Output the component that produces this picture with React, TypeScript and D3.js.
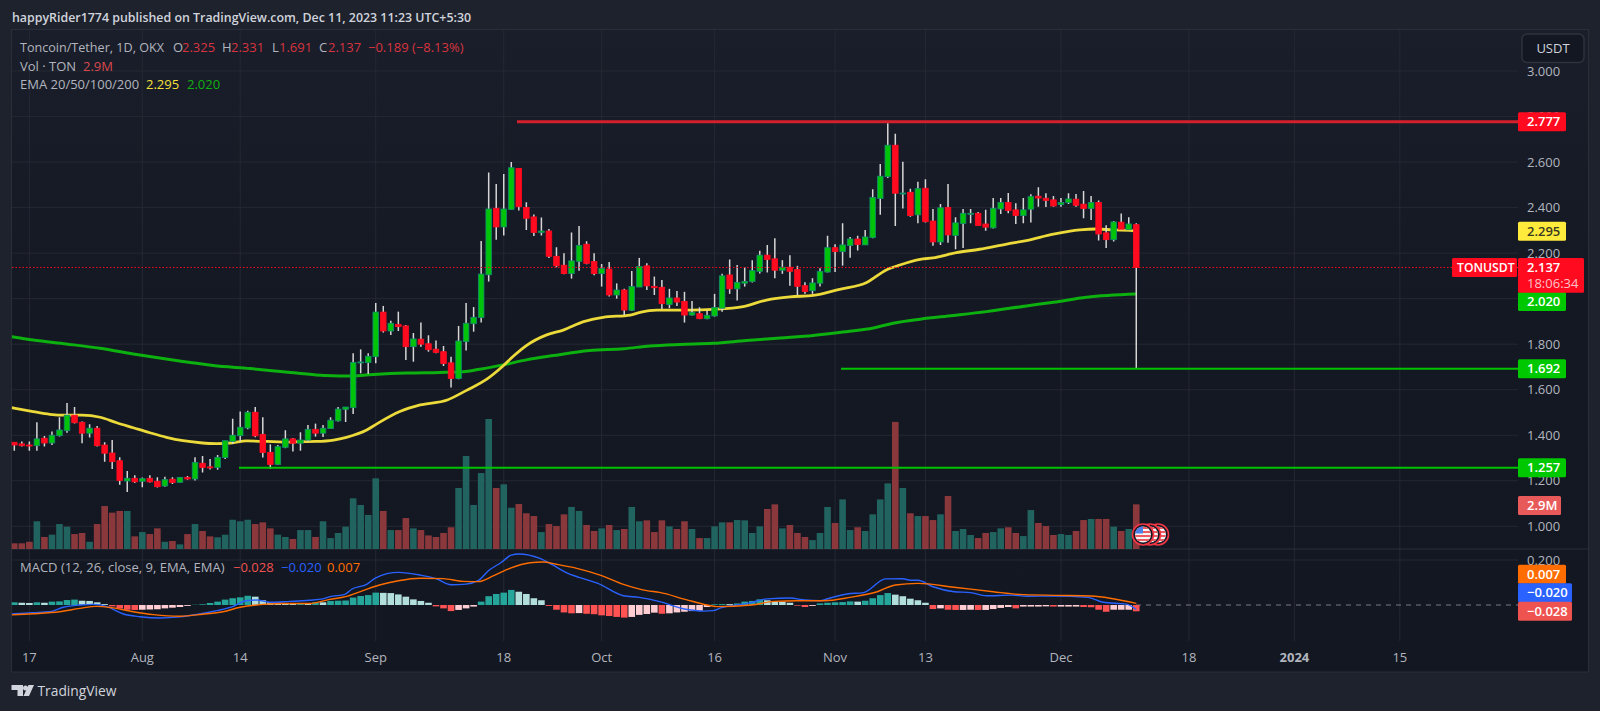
import React from "react";
import * as d3 from "d3";

// Daily candles, Jul 15 to Dec 11 2023
const opens = [
  1.369,1.362,1.357,1.354,1.387,1.366,1.398,1.420,1.488,1.457,
  1.409,1.431,1.357,1.322,1.288,1.199,1.211,1.198,1.211,1.198,
  1.177,1.207,1.193,1.215,1.208,1.277,1.261,1.258,1.302,1.373,
  1.398,1.432,1.501,1.404,1.325,1.272,1.347,1.384,1.365,1.379,
  1.426,1.409,1.429,1.463,1.514,1.521,1.719,1.719,1.745,1.941,
  1.858,1.887,1.880,1.789,1.822,1.802,1.778,1.767,1.718,1.649,
  1.811,1.890,1.917,2.105,2.397,2.315,2.392,2.572,2.401,2.359,
  2.291,2.297,2.186,2.147,2.110,2.164,2.239,2.163,2.110,2.130,
  2.016,2.038,1.949,2.051,2.144,2.054,2.050,1.974,2.003,1.988,
  1.928,1.934,1.912,1.924,1.958,2.104,2.043,2.068,2.075,2.120,
  2.191,2.175,2.125,2.138,2.128,2.057,2.035,2.068,2.117,2.224,
  2.207,2.233,2.262,2.236,2.268,2.440,2.536,2.674,2.462,2.467,
  2.368,2.485,2.341,2.249,2.401,2.277,2.330,2.372,2.375,2.328,
  2.311,2.394,2.422,2.390,2.365,2.393,2.450,2.441,2.434,2.413,
  2.422,2.437,2.415,2.396,2.422,2.289,2.259,2.336,2.303,2.325,
];
const highs = [
  1.369,1.373,1.373,1.457,1.397,1.416,1.479,1.542,1.524,1.460,
  1.448,1.441,1.369,1.379,1.303,1.243,1.224,1.214,1.224,1.215,
  1.218,1.215,1.215,1.221,1.303,1.309,1.296,1.313,1.376,1.472,
  1.504,1.508,1.524,1.479,1.360,1.357,1.422,1.388,1.413,1.445,
  1.451,1.445,1.479,1.524,1.524,1.760,1.777,1.760,1.981,1.968,
  1.903,1.943,1.884,1.849,1.895,1.839,1.816,1.792,1.745,1.880,
  1.981,1.963,2.253,2.554,2.504,2.548,2.600,2.572,2.423,2.370,
  2.357,2.306,2.226,2.199,2.291,2.319,2.252,2.199,2.152,2.161,
  2.067,2.043,2.122,2.179,2.155,2.097,2.082,2.043,2.034,2.030,
  1.990,1.962,1.948,2.021,2.109,2.172,2.148,2.138,2.169,2.210,
  2.236,2.265,2.169,2.191,2.144,2.072,2.090,2.134,2.276,2.239,
  2.331,2.271,2.276,2.302,2.481,2.592,2.770,2.724,2.601,2.483,
  2.513,2.524,2.394,2.416,2.504,2.358,2.394,2.394,2.381,2.390,
  2.442,2.442,2.464,2.419,2.442,2.459,2.489,2.463,2.451,2.442,
  2.463,2.460,2.473,2.451,2.431,2.322,2.341,2.374,2.358,2.331,
];
const lows = [
  1.332,1.350,1.332,1.332,1.350,1.357,1.394,1.411,1.452,1.365,
  1.390,1.350,1.284,1.252,1.182,1.151,1.190,1.171,1.192,1.170,
  1.174,1.186,1.192,1.204,1.201,1.236,1.250,1.248,1.296,1.362,
  1.372,1.426,1.391,1.302,1.252,1.269,1.343,1.329,1.332,1.373,
  1.394,1.392,1.428,1.460,1.458,1.493,1.672,1.669,1.716,1.851,
  1.840,1.858,1.731,1.723,1.789,1.767,1.760,1.704,1.610,1.646,
  1.772,1.855,1.895,2.075,2.259,2.277,2.392,2.387,2.302,2.275,
  2.277,2.179,2.138,2.107,2.088,2.123,2.151,2.103,2.053,2.009,
  2.000,1.928,1.946,2.051,2.038,2.016,1.955,1.958,1.968,1.895,
  1.926,1.910,1.910,1.921,1.943,2.021,1.992,2.053,2.071,2.110,
  2.115,2.090,2.109,2.057,2.015,2.021,2.021,2.053,2.115,2.117,
  2.145,2.180,2.211,2.236,2.265,2.368,2.530,2.319,2.396,2.360,
  2.331,2.334,2.232,2.236,2.246,2.217,2.223,2.331,2.321,2.298,
  2.308,2.372,2.375,2.328,2.331,2.334,2.404,2.403,2.404,2.404,
  2.416,2.404,2.353,2.346,2.255,2.223,2.251,2.302,2.302,1.691,
];
const closes = [
  1.357,1.354,1.354,1.384,1.366,1.400,1.423,1.488,1.455,1.409,
  1.431,1.354,1.321,1.284,1.201,1.211,1.195,1.209,1.195,1.174,
  1.205,1.192,1.215,1.208,1.280,1.258,1.258,1.303,1.376,1.400,
  1.435,1.501,1.397,1.324,1.272,1.350,1.384,1.365,1.379,1.426,
  1.409,1.431,1.466,1.515,1.524,1.720,1.722,1.747,1.941,1.858,
  1.892,1.877,1.789,1.823,1.800,1.776,1.764,1.715,1.649,1.814,
  1.892,1.918,2.108,2.394,2.315,2.394,2.575,2.404,2.353,2.291,
  2.297,2.186,2.144,2.110,2.166,2.234,2.155,2.110,2.132,2.016,
  2.038,1.950,2.053,2.141,2.056,2.048,1.978,2.003,1.985,1.928,
  1.939,1.912,1.927,1.961,2.100,2.043,2.071,2.076,2.123,2.191,
  2.172,2.125,2.138,2.120,2.054,2.031,2.069,2.120,2.224,2.207,
  2.236,2.262,2.238,2.271,2.445,2.538,2.674,2.463,2.464,2.365,
  2.483,2.338,2.249,2.399,2.280,2.333,2.375,2.375,2.321,2.314,
  2.397,2.422,2.387,2.365,2.390,2.448,2.442,2.431,2.407,2.422,
  2.438,2.410,2.396,2.422,2.284,2.259,2.337,2.305,2.328,2.137,
];
// Volume in millions of TON
const volumes = [
  0.37,0.37,0.47,1.80,0.78,0.93,1.62,1.45,0.97,1.04,
  0.47,1.62,2.79,2.36,2.47,2.47,0.82,1.10,0.97,1.34,
  0.47,0.52,0.30,0.97,1.62,1.17,0.82,0.76,0.93,1.90,
  1.80,1.90,1.62,1.73,1.34,0.93,0.78,0.65,1.23,1.23,
  0.78,1.80,0.71,1.04,1.45,3.29,2.86,2.21,4.59,2.47,
  1.23,1.23,2.01,1.34,1.23,0.88,0.78,1.04,1.41,3.96,
  6.04,2.86,4.93,8.44,3.96,4.20,2.68,2.92,2.32,2.14,
  1.10,1.62,1.49,2.25,2.73,2.47,1.56,1.17,1.34,1.56,
  1.23,1.30,2.73,1.80,1.86,1.10,1.86,1.47,1.30,1.80,
  1.30,0.71,0.71,1.47,1.73,1.73,1.88,1.86,1.04,1.47,
  2.60,2.90,1.34,1.56,1.04,0.78,0.58,1.04,2.73,1.69,
  3.22,1.23,1.41,1.17,2.25,3.22,4.26,8.25,3.96,2.32,
  2.14,2.14,1.88,2.25,3.44,1.17,1.30,0.91,0.71,1.04,
  1.10,1.34,1.41,1.04,0.84,2.53,1.69,1.49,0.91,0.97,
  0.91,1.17,1.88,1.95,1.95,1.95,1.45,1.17,1.30,2.90,
];
const macdHist = [
  0.012,0.010,0.009,0.012,0.010,0.015,0.016,0.022,0.024,0.019,
  0.018,0.012,0.004,-0.006,-0.016,-0.021,-0.022,-0.021,-0.020,-0.019,
  -0.015,-0.012,-0.009,-0.004,0.001,0.003,0.009,0.015,0.024,0.030,
  0.034,0.041,0.037,0.021,0.013,0.010,0.007,0.006,0.009,0.007,
  0.012,0.012,0.018,0.019,0.020,0.033,0.040,0.044,0.055,0.054,
  0.053,0.047,0.037,0.025,0.018,0.010,-0.006,-0.015,-0.027,-0.022,
  -0.015,-0.007,0.015,0.039,0.049,0.055,0.067,0.059,0.049,0.030,
  0.021,-0.004,-0.021,-0.033,-0.037,-0.036,-0.039,-0.041,-0.046,-0.049,
  -0.053,-0.056,-0.053,-0.044,-0.040,-0.034,-0.039,-0.037,-0.033,-0.030,
  -0.027,-0.025,-0.009,0.003,0.004,0.004,0.007,0.015,0.018,0.025,
  0.021,0.016,0.015,0.010,-0.003,-0.009,-0.004,0.007,0.010,0.012,
  0.013,0.016,0.015,0.019,0.030,0.044,0.053,0.046,0.039,0.028,
  0.021,0.010,-0.018,-0.015,-0.021,-0.022,-0.022,-0.021,-0.022,-0.022,
  -0.018,-0.013,-0.009,-0.015,-0.007,-0.007,-0.007,-0.006,-0.007,-0.007,
  -0.007,-0.007,-0.009,-0.010,-0.021,-0.030,-0.021,-0.021,-0.021,-0.028,
];

// Lines read at sampled bar positions
const ema50Idx = [-0.35,2.5,4.7,6.9,9,11.4,13.6,15.8,18,20.2,22.4,24.7,26.9,29,30.8,33.5,35.7,38,40.1,42.4,44.1,46.8,48.1,51.2,53.9,57.5,60,62.7,64.9,66.3,68,70.7,72.9,75.6,78.2,81.8,83.1,85.3,89.7,92.8,96.8,99.9,103,106.1,109.6,113.2,115.8,117.6,120.3,122,125.1,128.2,131.8,134.4,138,141.5,143.7,145.9,148.1,149];
const ema50Val = [1.521,1.504,1.492,1.488,1.488,1.479,1.455,1.433,1.411,1.391,1.376,1.367,1.363,1.367,1.375,1.373,1.370,1.372,1.373,1.379,1.391,1.423,1.449,1.504,1.533,1.555,1.596,1.645,1.704,1.748,1.794,1.841,1.862,1.899,1.918,1.928,1.940,1.950,1.950,1.953,1.965,1.994,2.008,2.014,2.041,2.071,2.126,2.148,2.173,2.179,2.202,2.217,2.240,2.255,2.283,2.302,2.306,2.302,2.300,2.295];
const ema200Idx = [-0.35,2.5,6.9,11.4,15.8,19.3,22.9,26.4,31.3,35.7,40.1,44.1,47.7,52.1,56.5,59.6,61.8,64.9,68,71.6,76.4,80.9,84.4,88.4,92.8,97.2,101.7,106.1,110.5,114.1,116.7,120.3,124.7,129.1,134.4,138,142.4,149];
const ema200Val = [1.833,1.818,1.801,1.782,1.757,1.739,1.722,1.706,1.693,1.679,1.665,1.660,1.667,1.673,1.676,1.679,1.690,1.709,1.731,1.750,1.772,1.780,1.792,1.799,1.804,1.816,1.827,1.838,1.855,1.871,1.892,1.910,1.926,1.943,1.968,1.984,2.006,2.020];
const macdIdx = [-0.35,2.5,4.7,6.5,8.7,10.5,12.3,14.5,16.7,19.3,22,24.6,26.9,29,30.8,32.2,33.9,36.6,39.2,41,41.9,43.9,44.8,46.8,48,51,53.9,56,58,60,61.6,63,64.7,66,67,69.8,71.5,73.3,75,77.5,80.9,83,85.7,89.2,91.5,92.8,93.8,97.4,100,103,105,107,108,110.6,112.8,115.7,118,119,120,122,124.8,127,129.1,132.4,134.5,138,142.6,144.6,147.7,149];
const macdVal = [-0.040,-0.034,-0.030,-0.010,0,0.003,-0.007,-0.040,-0.052,-0.058,-0.053,-0.040,-0.025,-0.007,0.019,0.022,0.012,0.016,0.021,0.027,0.037,0.047,0.070,0.092,0.121,0.145,0.133,0.117,0.090,0.093,0.108,0.153,0.190,0.222,0.227,0.207,0.178,0.144,0.123,0.096,0.041,0.034,0.015,-0.019,-0.027,-0.025,-0.013,0.007,0.027,0.031,0.022,0.019,0.028,0.049,0.055,0.116,0.117,0.110,0.110,0.081,0.059,0.055,0.041,0.044,0.039,0.040,0.034,0.012,0.004,-0.020];
const signalIdx = [-0.35,2.5,6,8.7,10.9,13.1,15.8,18.5,22,25,27.7,30,33,35.7,39.2,41.9,44,46.3,48.5,51,53.9,57,59.6,61.6,63.6,65.8,68.5,70.2,72,74.7,77.8,80.9,84,85.7,89.2,92,93.3,97.9,100.9,104,107.5,111,114.6,117,120,124.8,130,133.4,138.5,143,149];
const signalVal = [-0.044,-0.039,-0.030,-0.015,-0.006,-0.013,-0.030,-0.043,-0.050,-0.041,-0.030,-0.010,0.003,0.007,0.007,0.025,0.037,0.064,0.089,0.108,0.119,0.117,0.105,0.104,0.129,0.163,0.188,0.191,0.181,0.163,0.133,0.092,0.064,0.056,0.024,0,-0.007,0,0.016,0.019,0.019,0.034,0.059,0.089,0.096,0.079,0.059,0.047,0.043,0.040,0.007];

const priceTicks = [3, 2.8, 2.6, 2.4, 2.2, 1.8, 1.6, 1.4, 1.2, 1];
const gridPrices = [3, 2.8, 2.6, 2.4, 2.2, 2, 1.8, 1.6, 1.4, 1.2, 1];
const timeLabels = ["17", "Aug", "14", "Sep", "18", "Oct", "16", "Nov", "13", "Dec", "18", "2024", "15"];
const timeBars = [2, 17, 30, 48, 65, 78, 93, 109, 121, 139, 156, 170, 184];

const resistance = 2.777;
const support1 = 1.692;
const support2 = 1.257;
const lastClose = 2.137;

const FONT = "'Open Sans', 'DejaVu Sans', sans-serif";
const UP = "#00c40a";
const DOWN = "#ff0a1f";
const GRID = "#242833";
const MUTED = "#b2b5be";

const x = d3.scaleLinear().domain([0, 149]).range([14.3, 14.3 + 7.53 * 149]);
const y = d3.scaleLinear().domain([1, 3]).range([526.3, 71]);
const yVol = d3.scaleLinear().domain([0, 8.44]).range([549, 419]);
const yMacd = d3.scaleLinear().domain([-0.2, 0.2]).range([650, 560]);

const priceLine = (idx: number[], vals: number[], sy: d3.ScaleLinear<number, number>) =>
  d3
    .line<number>()
    .x((d) => x(d))
    .y((_, i) => sy(vals[i]))
    .curve(d3.curveMonotoneX)(idx) as string;

const fmt = d3.format(".3f");

const Tag = ({ yc, w, fill, text, color = "#fff", x0 = 1518 }: any) => (
  <g>
    <rect x={x0} y={yc - 9.5} width={w} height={19} rx={1.5} fill={fill} />
    <text x={x0 + 9} y={yc + 4.6} fontSize={13} fontWeight={600} fill={color}>
      {text}
    </text>
  </g>
);

const Flag = ({ cx, cy }: { cx: number; cy: number }) => (
  <g>
    <circle cx={cx} cy={cy} r={10.5} fill="#131722" stroke="#f23645" strokeWidth={1.6} />
    <clipPath id={`flag${cx}`}>
      <circle cx={cx} cy={cy} r={8} />
    </clipPath>
    <g clipPath={`url(#flag${cx})`}>
      <rect x={cx - 9} y={cy - 9} width={18} height={18} fill="#f4f4f4" />
      {[-7.5, -3.5, 0.5, 4.5].map((d) => (
        <rect key={d} x={cx - 9} y={cy + d} width={18} height={2} fill="#ee5a62" />
      ))}
      <rect x={cx - 9} y={cy - 9} width={9} height={8} fill="#4d7fe8" />
    </g>
  </g>
);

const App = () => {
  const histColor = (v: number, i: number) => {
    const prev = i > 0 ? macdHist[i - 1] : v - 1;
    if (v >= 0) return v > prev ? "#26a69a" : "#b2dfdb";
    return v < prev ? "#ff5252" : "#ffcdd2";
  };

  return (
    <svg
      width={1600}
      height={711}
      style={{ position: "absolute", left: 0, top: 0, display: "block" }}
      fontFamily={FONT}
    >
      <defs>
        <linearGradient id="panel" x1="0" y1="0" x2="0" y2="1">
          <stop offset="0" stopColor="#1a1e2a" />
          <stop offset="0.45" stopColor="#141823" />
          <stop offset="1" stopColor="#131722" />
        </linearGradient>
        <clipPath id="main">
          <rect x={11.7} y={30} width={1506.3} height={519} />
        </clipPath>
        <clipPath id="macd">
          <rect x={11.7} y={550} width={1506.3} height={92} />
        </clipPath>
      </defs>

      <rect width={1600} height={711} fill="#1e222d" />
      <text x={12} y={21.5} fontSize={12.4} fontWeight={600} fill="#d1d4dc">
        happyRider1774 published on TradingView.com, Dec 11, 2023 11:23 UTC+5:30
      </text>

      <rect x={11.5} y={29.5} width={1577} height={642.5} fill="url(#panel)" stroke="#2a2e39" />

      {/* grid */}
      {gridPrices.map((p) => (
        <line key={p} x1={12} x2={1518} y1={y(p)} y2={y(p)} stroke={GRID} />
      ))}
      <line x1={12} x2={1518} y1={yMacd(0.2)} y2={yMacd(0.2)} stroke={GRID} />
      {timeBars.map((b) => (
        <g key={b}>
          <line x1={x(b)} x2={x(b)} y1={30} y2={549} stroke={GRID} />
          <line x1={x(b)} x2={x(b)} y1={549} y2={641} stroke={GRID} />
        </g>
      ))}
      <line x1={12} x2={1588} y1={549} y2={549} stroke="#2a2e39" />

      {/* volume */}
      <g clipPath="url(#main)">
        {volumes.map((v, i) => (
          <rect
            key={i}
            x={x(i) - 3.3}
            y={yVol(v)}
            width={6.6}
            height={549 - yVol(v)}
            fill={closes[i] >= opens[i] ? "#21635f" : "#8a383c"}
          />
        ))}

        <path d={priceLine(ema200Idx, ema200Val, y)} fill="none" stroke="#0cb00f" strokeWidth={3} />
        <path d={priceLine(ema50Idx, ema50Val, y)} fill="none" stroke="#ecd93a" strokeWidth={2.8} />

        {/* candles */}
        {opens.map((o, i) => {
          const up = closes[i] >= o;
          const top = y(Math.max(o, closes[i]));
          const bottom = y(Math.min(o, closes[i]));
          return (
            <g key={i}>
              <line x1={x(i)} x2={x(i)} y1={y(highs[i])} y2={y(lows[i])} stroke="#d6d6d6" strokeWidth={1.5} />
              <rect
                x={x(i) - 2.8}
                y={top}
                width={5.6}
                height={Math.max(bottom - top, 1)}
                fill={up ? UP : DOWN}
                stroke={up ? "#128a70" : DOWN}
                strokeWidth={0.8}
              />
            </g>
          );
        })}

        {/* horizontal levels */}
        <line x1={517} x2={1518} y1={y(resistance)} y2={y(resistance)} stroke="#d4202c" strokeWidth={3} />
        <line x1={841} x2={1518} y1={y(support1)} y2={y(support1)} stroke="#00c200" strokeWidth={2} />
        <line x1={239} x2={1518} y1={y(support2)} y2={y(support2)} stroke="#00c200" strokeWidth={2} />
        <line
          x1={12}
          x2={1518}
          y1={y(lastClose)}
          y2={y(lastClose)}
          stroke={DOWN}
          strokeWidth={1}
          strokeDasharray="1.5 2"
        />
      </g>

      <Flag cx={1158} cy={534.5} />
      <Flag cx={1150} cy={534.5} />
      <Flag cx={1143} cy={534.5} />

      {/* macd */}
      <g clipPath="url(#macd)">
        <line x1={1136} x2={1518} y1={yMacd(0)} y2={yMacd(0)} stroke="#787b86" strokeDasharray="5 5" />
        {macdHist.map((v, i) => (
          <rect
            key={i}
            x={x(i) - 3.3}
            y={Math.min(yMacd(v), yMacd(0))}
            width={6.6}
            height={Math.abs(yMacd(v) - yMacd(0))}
            fill={histColor(v, i)}
          />
        ))}
        <path d={priceLine(macdIdx, macdVal, yMacd)} fill="none" stroke="#2962ff" strokeWidth={1.4} />
        <path d={priceLine(signalIdx, signalVal, yMacd)} fill="none" stroke="#ff6d00" strokeWidth={1.4} />
      </g>

      {/* legends */}
      <g fontSize={13}>
        <text x={20} y={52} fontSize={12.6} fill={MUTED}>Toncoin/Tether, 1D, OKX</text>
        <text x={173} y={52} fill={MUTED}>O</text>
        <text x={182} y={52} fill="#d8343f">2.325</text>
        <text x={222} y={52} fill={MUTED}>H</text>
        <text x={231} y={52} fill="#d8343f">2.331</text>
        <text x={272} y={52} fill={MUTED}>L</text>
        <text x={279} y={52} fill="#d8343f">1.691</text>
        <text x={319} y={52} fill={MUTED}>C</text>
        <text x={328} y={52} fill="#d8343f">2.137</text>
        <text x={368} y={52} fill="#d8343f">−0.189 (−8.13%)</text>
        <text x={20} y={71} fill={MUTED}>Vol · TON</text>
        <text x={83} y={71} fill="#d8494d">2.9M</text>
        <text x={20} y={89} fill={MUTED}>EMA 20/50/100/200</text>
        <text x={146} y={89} fill="#f5e03a">2.295</text>
        <text x={187} y={89} fill="#10b010">2.020</text>
        <text x={20} y={572} fill={MUTED}>MACD (12, 26, close, 9, EMA, EMA)</text>
        <text x={233} y={572} fill="#ef5350">−0.028</text>
        <text x={281} y={572} fill="#2962ff">−0.020</text>
        <text x={327} y={572} fill="#ff6d00">0.007</text>
      </g>

      {/* price axis */}
      <rect x={1522} y={34} width={62} height={28.5} rx={5} fill="#131722" stroke="#2f333e" strokeWidth={1.4} />
      <text x={1553} y={52.5} textAnchor="middle" fontSize={13} fill="#d1d4dc">USDT</text>
      <g fontSize={13} fill={MUTED}>
        {priceTicks.map((p) => (
          <text key={p} x={1527} y={y(p) + 4.6}>{fmt(p)}</text>
        ))}
        <text x={1527} y={yMacd(0.2) + 4.6}>0.200</text>
      </g>

      <Tag yc={y(resistance)} w={48} fill={DOWN} text="2.777" />
      <Tag yc={231.2} w={48} fill="#ffeb3b" text="2.295" color="#3a3a22" />
      <Tag yc={301.6} w={48} fill="#00c800" text="2.020" />
      <Tag yc={y(support1)} w={48} fill="#00c800" text="1.692" />
      <Tag yc={y(support2)} w={48} fill="#00c800" text="1.257" />
      <Tag yc={505.5} w={43} fill="#e85a5a" text="2.9M" />
      <Tag yc={574.2} w={48} fill="#ff6d00" text="0.007" />
      <Tag yc={592.7} w={54} fill="#2962ff" text="−0.020" />
      <Tag yc={611.2} w={54} fill="#ef5350" text="−0.028" />

      <rect x={1452} y={258} width={65} height={19} rx={1.5} fill={DOWN} />
      <text x={1457} y={272} fontSize={12.2} fontWeight={600} fill="#fff">TONUSDT</text>
      <rect x={1518} y={258} width={66} height={34.7} rx={1.5} fill={DOWN} />
      <text x={1527} y={272} fontSize={13} fontWeight={600} fill="#fff">2.137</text>
      <text x={1527} y={288} fontSize={13} fill="#ffc2c6">18:06:34</text>

      {/* time axis */}
      <g fontSize={13} fill={MUTED} textAnchor="middle">
        {timeLabels.map((t, i) => (
          <text key={i} x={x(timeBars[i])} y={661.5} fontWeight={t === "2024" ? 700 : 400}>
            {t}
          </text>
        ))}
      </g>

      {/* watermark */}
      <g fill="#d1d4dc">
        <path d="M11.5 685h11.5v11h-5.5v-6h-6z" />
        <circle cx={25.5} cy={688} r={2.5} />
        <path d="M28.5 685h5.5l-5 11h-5.5z" />
        <text x={37.5} y={696} fontSize={13.8} fontWeight={500}>TradingView</text>
      </g>
    </svg>
  );
};

export default App;
